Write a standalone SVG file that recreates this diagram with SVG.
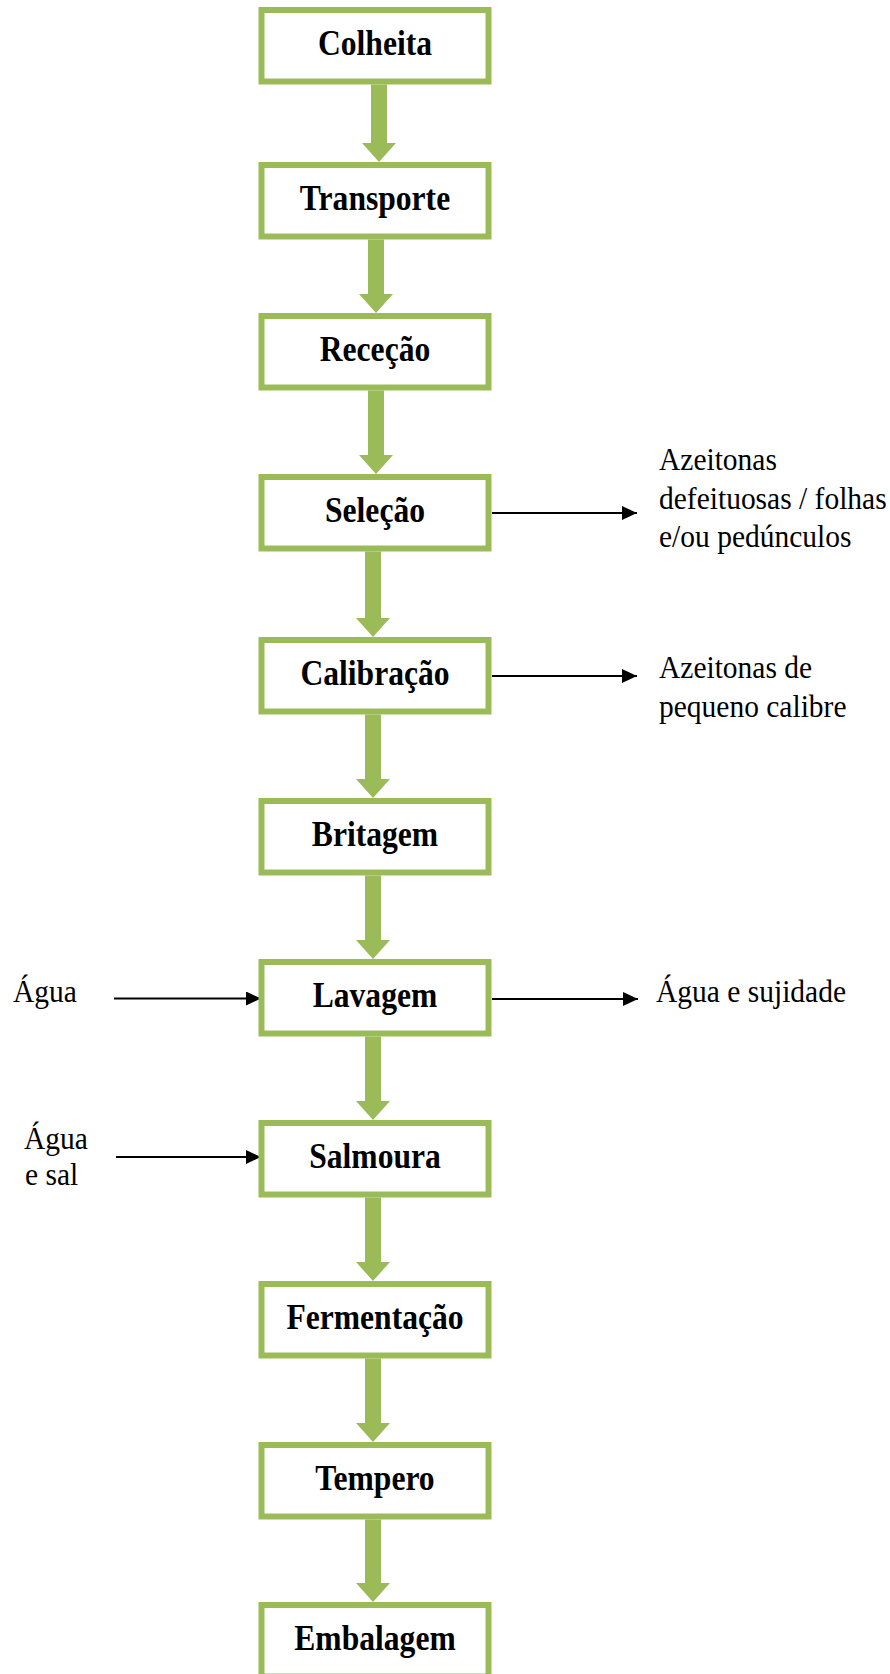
<svg xmlns="http://www.w3.org/2000/svg" width="890" height="1674" viewBox="0 0 890 1674">
<style>
.box{fill:#ffffff;stroke:#9bbb59;stroke-width:6}
.lbl{font-family:"Liberation Serif","Times New Roman",serif;font-weight:bold;font-size:31.6px;fill:#000;text-anchor:middle}
.note{font-family:"Liberation Serif","Times New Roman",serif;font-size:29.5px;fill:#000}
.flow{fill:#9bbb59;stroke:none}
.side{stroke:#000;stroke-width:2;fill:none;marker-end:url(#ah)}
</style>
<defs>
<marker id="ah" markerUnits="userSpaceOnUse" markerWidth="15" markerHeight="14" refX="15" refY="7" orient="auto">
<path d="M0,0 L15,7 L0,14 z" fill="#000"/>
</marker>
</defs>
<rect width="890" height="1674" fill="#ffffff"/>
<g id="connectors">
<polygon class="flow" points="371,84.5 387,84.5 387,143 396,143 379,162 362,143 371,143"/>
<polygon class="flow" points="368,239.5 384,239.5 384,294 393,294 376,313 359,294 368,294"/>
<polygon class="flow" points="368,390.5 384,390.5 384,455 393,455 376,474 359,455 368,455"/>
<polygon class="flow" points="365,551.5 381,551.5 381,618 390,618 373,637 356,618 365,618"/>
<polygon class="flow" points="365,714.5 381,714.5 381,779 390,779 373,798 356,779 365,779"/>
<polygon class="flow" points="365,875.5 381,875.5 381,940 390,940 373,959 356,940 365,940"/>
<polygon class="flow" points="365,1036.5 381,1036.5 381,1101 390,1101 373,1120 356,1101 365,1101"/>
<polygon class="flow" points="365,1197.5 381,1197.5 381,1262 390,1262 373,1281 356,1262 365,1262"/>
<polygon class="flow" points="365,1358.5 381,1358.5 381,1423 390,1423 373,1442 356,1423 365,1423"/>
<polygon class="flow" points="365,1519.5 381,1519.5 381,1583 390,1583 373,1602 356,1583 365,1583"/>
<line class="side" x1="492" y1="513" x2="637" y2="513"/>
<line class="side" x1="492" y1="676" x2="637" y2="676"/>
<line class="side" x1="492" y1="999" x2="638" y2="999"/>
<line class="side" x1="114" y1="998.5" x2="261" y2="998.5"/>
<line class="side" x1="116" y1="1157" x2="261" y2="1157"/>
</g>
<g id="n-colheita"><rect class="box" x="261.5" y="10" width="227" height="71.5"/><text class="lbl" transform="translate(375,55) scale(1,1.1)">Colheita</text></g>
<g id="n-transporte"><rect class="box" x="261.5" y="165" width="227" height="71.5"/><text class="lbl" transform="translate(375,209.5) scale(1,1.1)">Transporte</text></g>
<g id="n-rececao"><rect class="box" x="261.5" y="316" width="227" height="71.5"/><text class="lbl" transform="translate(375,360.5) scale(1,1.1)">Receção</text></g>
<g id="n-selecao"><rect class="box" x="261.5" y="477" width="227" height="71.5"/><text class="lbl" transform="translate(375,521.5) scale(1,1.1)">Seleção</text></g>
<g id="n-calibracao"><rect class="box" x="261.5" y="640" width="227" height="71.5"/><text class="lbl" transform="translate(375,684.5) scale(1,1.1)">Calibração</text></g>
<g id="n-britagem"><rect class="box" x="261.5" y="801" width="227" height="71.5"/><text class="lbl" transform="translate(375,845.5) scale(1,1.1)">Britagem</text></g>
<g id="n-lavagem"><rect class="box" x="261.5" y="962" width="227" height="71.5"/><text class="lbl" transform="translate(375,1006.5) scale(1,1.1)">Lavagem</text></g>
<g id="n-salmoura"><rect class="box" x="261.5" y="1123" width="227" height="71.5"/><text class="lbl" transform="translate(375,1167.5) scale(1,1.1)">Salmoura</text></g>
<g id="n-fermentacao"><rect class="box" x="261.5" y="1284" width="227" height="71.5"/><text class="lbl" transform="translate(375,1328.5) scale(1,1.1)">Fermentação</text></g>
<g id="n-tempero"><rect class="box" x="261.5" y="1445" width="227" height="71.5"/><text class="lbl" transform="translate(375,1489.5) scale(1,1.1)">Tempero</text></g>
<g id="n-embalagem"><rect class="box" x="261.5" y="1605" width="227" height="71.5"/><text class="lbl" transform="translate(375,1649.5) scale(1,1.1)">Embalagem</text></g>
<g id="t-selecao-out">
<text class="note" transform="translate(659,470) scale(1,1.1)">Azeitonas</text>
<text class="note" transform="translate(659,508.5) scale(1,1.1)">defeituosas / folhas</text>
<text class="note" transform="translate(659,547) scale(1,1.1)">e/ou pedúnculos</text>
</g>
<g id="t-calibracao-out">
<text class="note" transform="translate(659,678) scale(1,1.1)">Azeitonas de</text>
<text class="note" transform="translate(659,717) scale(1,1.1)">pequeno calibre</text>
</g>
<g id="t-lavagem-out"><text class="note" transform="translate(656,1002) scale(1,1.1)">Água e sujidade</text></g>
<g id="t-lavagem-in"><text class="note" transform="translate(13,1002) scale(1,1.1)">Água</text></g>
<g id="t-salmoura-in">
<text class="note" transform="translate(24,1149) scale(1,1.1)">Água</text>
<text class="note" transform="translate(25,1185) scale(1,1.1)">e sal</text>
</g>
</svg>
